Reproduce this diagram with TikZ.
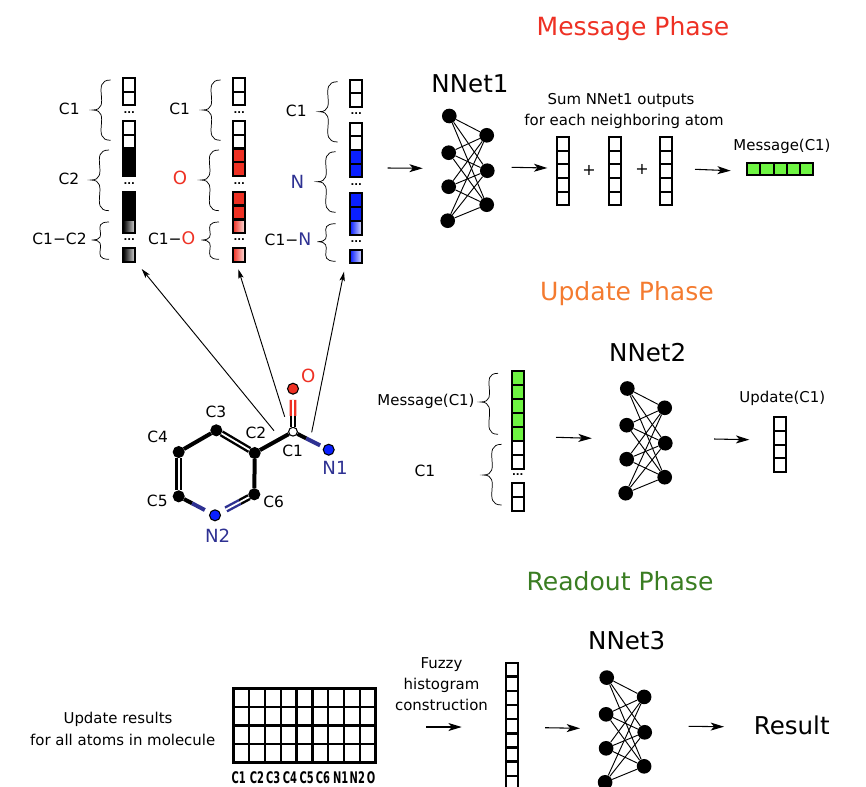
\documentclass[tikz,border=0pt]{standalone}
\usepackage{fontspec}
\setmainfont{DejaVu Sans}
\newfontfamily\gridfont[FakeStretch=0.62]{DejaVu Sans}
\usetikzlibrary{arrows.meta,calc}
\definecolor{atomred}{HTML}{EE3124}
\definecolor{atomblue}{HTML}{0A20FF}
\definecolor{atomnavy}{HTML}{2E3192}
\definecolor{msggreen}{HTML}{6EF542}
\definecolor{updorange}{HTML}{F47B30}
\definecolor{readgreen}{HTML}{3A7D22}

\begin{document}
\begin{tikzpicture}[x=0.75pt, y=-0.75pt,
        cell/.style={rectangle, draw, line width=1.5pt, inner sep=0, minimum width=9pt, minimum height=10.2pt},
        hcell/.style={cell, minimum width=9.9pt, minimum height=9.4pt, fill=msggreen},
        gcell/.style={rectangle, draw, line width=1.8pt, inner sep=0, minimum width=11.865pt, minimum height=13.875pt},
        neuron/.style={circle, fill=black, inner sep=0, minimum size=11pt},
        atom/.style={circle, draw, fill=black, line width=0.8pt, inner sep=0, minimum size=8.2pt},
        lab/.style={inner sep=0, font=\fontsize{11.6}{13}\selectfont},
        small/.style={inner sep=0, align=center, font=\fontsize{11.2}{15.75}\selectfont},
        big/.style={inner sep=0, font=\fontsize{18.4}{22}\selectfont},
        phase/.style={inner sep=0, font=\fontsize{18.8}{24}\selectfont},
        elem/.style={inner sep=0, font=\fontsize{13.6}{16}\selectfont},
        dots/.style={inner sep=0, font=\fontsize{7.5}{8}\selectfont\bfseries},
        flow/.style={-{Stealth[length=10pt, width=6pt, inset=2.6pt]}, line width=0.8pt},
        pick/.style={-{Stealth[length=7pt, width=4pt, inset=1.5pt]}, line width=0.7pt},
        bond/.style={line width=3pt},
        dbond/.style={line width=1.8pt, double, double distance=1.3pt}]
    \useasboundingbox (0,0) rectangle (866,786);
    % Phase titles
    \node[phase, atomred] (mphase) at (633,29) {Message Phase};
    \node[phase, updorange] (uphase) at (627,294) {Update Phase};
    \node[phase, readgreen] (rphase) at (620,581) {Readout Phase};
    % Atom feature columns
    \foreach \n/\cx/\dy/\colr in {A/129.3/0/black, B/239.2/0/atomred, C/356.2/1.5/atomblue} {
        \foreach \i/\cy in {1/85,2/98.4,3/128,4/141.6}
            \node[cell] (\n\i) at (\cx,\cy+\dy) {};
        \foreach \i/\cy in {5/155.5,6/169,7/198.4,8/212.6}
            \node[cell, fill=\colr] (\n\i) at (\cx,\cy+\dy) {};
        \foreach \i/\cy in {9/226.6,10/254.8}
            \node[cell, left color=\colr, right color=\colr!12] (\n\i) at (\cx,\cy+\dy) {};
        \foreach \i/\cy in {1/112.5,2/183.5,3/240}
            \node[dots] (\n d\i) at (\cx,\cy+\dy) {...};
    }
    % Curly braces
    \foreach \xr/\xp/\ta/\tb/\tc in {110.7/92.7/80/110/140.3, 109/91/150/180/210.7, 109/91.7/222/240/259.3,
            220.7/202.7/80/110/140.3, 219/201/150/180/210.7, 219/201.3/222/240/259.3,
            337.7/319.3/81.7/111.7/142, 335.7/317.3/151.7/181.7/212.3, 335.7/317.3/223.7/241.7/261.3,
            498/480.7/373.3/402/434.3, 501.7/483.3/444.3/475/505}
        \draw[line width=0.55pt] (\xr,\ta) .. controls (\xp-3,\ta) and (\xp+20,\tb) .. (\xp,\tb)
            .. controls (\xp+20,\tb) and (\xp-3,\tc) .. (\xr,\tc);
    % Column labels
    \node[lab] (l1) at (69.3,109) {C1};
    \node[lab] (l2) at (69,179.3) {C2};
    \node[lab] (l3) at (59.5,239.3) {C1−C2};
    \node[lab] (l4) at (179.7,109) {C1};
    \node[elem, atomred] (l5) at (180,178.3) {O};
    \node[lab] (l6) at (171.7,238.5) {C1−{\color{atomred}\fontsize{13}{16}\selectfont O}};
    \node[lab] (l7) at (296.3,111) {C1};
    \node[elem, atomnavy] (l8) at (297.3,181.7) {N};
    \node[lab] (l9) at (288,239.3) {C1−{\color{atomnavy}\fontsize{13}{16}\selectfont N}};
    % Molecule
    \node[atom, fill=white, minimum size=6.6pt] (C1) at (293,431.7) {};
    \node[atom, fill=atomred] (O) at (293,388.7) {};
    \node[atom, fill=atomblue] (N1) at (328.7,449.7) {};
    \node[atom] (C2) at (254.7,453) {};
    \node[atom] (C3) at (216.3,430.3) {};
    \node[atom] (C4) at (178.7,452) {};
    \node[atom] (C5) at (178.7,496.3) {};
    \node[atom] (C6) at (254.3,494.3) {};
    \node[atom, fill=atomblue] (N2) at (215,515.3) {};
    \draw[bond] (C1) -- (C2);
    \draw[bond] (C3) -- (C4);
    \draw[bond] (C2) -- (C6);
    \draw[dbond] (C3) -- (C2);
    \draw[dbond] (C4) -- (C5);
    \draw[bond] (C5) -- ($(C5)!0.37!(N2)$);
    \draw[bond, atomnavy] ($(C5)!0.37!(N2)$) -- ($(C5)!0.72!(N2)$);
    \draw[bond] (C1) -- ($(C1)!0.37!(N1)$);
    \draw[bond, atomnavy] ($(C1)!0.37!(N1)$) -- ($(C1)!0.76!(N1)$);
    \draw[dbond] (C6) -- ($(C6)!0.37!(N2)$);
    \draw[dbond, atomnavy] ($(C6)!0.37!(N2)$) -- ($(C6)!0.72!(N2)$);
    \draw[dbond] (C1) -- ($(C1)!0.37!(O)$);
    \draw[dbond, atomred] ($(C1)!0.37!(O)$) -- ($(C1)!0.74!(O)$);
    \node[lab] (tC1) at (292.7,451) {C1};
    \node[lab] (tC2) at (256,432.7) {C2};
    \node[lab] (tC3) at (216,412) {C3};
    \node[lab] (tC4) at (157.7,437.3) {C4};
    \node[lab] (tC5) at (157.3,500.7) {C5};
    \node[lab] (tC6) at (273.7,502) {C6};
    \node[elem, atomred] (tO) at (308.3,375.7) {O};
    \node[elem, atomnavy] (tN1) at (335,467.7) {N1};
    \node[elem, atomnavy] (tN2) at (217.7,535.7) {N2};
    % Arrows from molecule to columns
    \foreach \n/\xa/\ya/\xb/\yb in {1/274/430.7/141.7/269, 2/284.7/416.7/238.3/269.3, 3/311.7/432.3/344/271.7} {
        \coordinate (ps\n) at (\xa,\ya);
        \coordinate (pe\n) at (\xb,\yb);
        \draw[pick] (ps\n) -- (pe\n);
    }
    % Neural nets
    \foreach \n/\ox/\oy in {1/0/0, 2/178/272.5, 3/157.4/561.6} {
        \foreach \i/\a/\b in {1/449.3/116, 2/448.7/152.7, 3/448.7/186.7, 4/447.7/220.7}
            \node[neuron] (L\n\i) at (\ox+\a,\oy+\b) {};
        \foreach \j/\a/\b in {1/486.7/135.3, 2/487.3/170.7, 3/486.7/204.7}
            \node[neuron] (R\n\j) at (\ox+\a,\oy+\b) {};
        \foreach \i in {1,...,4}
            \foreach \j in {1,...,3}
                \draw[line width=0.7pt] (L\n\i) -- (R\n\j);
    }
    \node[big] (net1) at (470,84) {NNet1};
    \node[big] (net2) at (647.7,352.7) {NNet2};
    \node[big] (net3) at (626.7,641) {NNet3};
    % Flow arrows
    \foreach \n/\xa/\ya/\xb/\yb in {1/387.5/168/422.7/168.3, 2/511.7/167.3/547.3/168, 3/695/169.3/730.7/170.7,
            4/556/437.3/591.7/438.3, 5/714/439/749.3/439.7,
            6/426/727/461.7/727, 7/545/727.7/580/728.3, 8/688.7/726.3/724/726.7} {
        \coordinate (fs\n) at (\xa,\ya);
        \coordinate (fe\n) at (\xb,\yb);
        \draw[flow] (fs\n) -- (fe\n);
    }
    % Message phase outputs
    \node[small] (sumtexta) at (621,100.5) {Sum NNet1 outputs};
    \node[small] (sumtextb) at (624,121.5) {for each neighboring atom};
    \foreach \k/\cx in {1/563.3, 2/615.2, 3/665.5}
        \foreach \i in {1,...,5}
            \node[cell] (S\k\i) at (\cx,{130.3+\i*13.65}) {};
    \node[small, font=\fontsize{12}{14}\selectfont] (plus1) at (589,170) {+};
    \node[small, font=\fontsize{12}{14}\selectfont] (plus2) at (642,169.3) {+};
    \node[small] (msgtext) at (782,146) {Message(C1)};
    \foreach \i in {1,...,5}
        \node[hcell] (M\i) at ({740.7+\i*13.15},169.2) {};
    % Update phase
    \foreach \i in {1,...,5}
        \node[cell, fill=msggreen] (U\i) at (517.8,{364.2+\i*13.9}) {};
    \node[cell] (U6) at (517.8,447.7) {};
    \node[cell] (U7) at (517.8,461.7) {};
    \node[dots] (Ud) at (517.8,475) {...};
    \node[cell] (U8) at (517.8,490.2) {};
    \node[cell] (U9) at (517.8,504) {};
    \node[small] (umsg) at (426,401.7) {Message(C1)};
    \node[lab] (uc1) at (425,470.7) {C1};
    \node[small] (updtext) at (782.3,398.3) {Update(C1)};
    \foreach \i in {1,...,4}
        \node[cell] (V\i) at (779.8,{410.3+\i*13.7}) {};
    % Readout phase
    \node[small] (rtexta) at (118,719) {Update results};
    \node[small] (rtextb) at (122.7,740) {for all atoms in molecule};
    \foreach \i in {1,...,9}
        \foreach \j in {1,...,4}
            \node[gcell] (G\i\j) at ({225.4+\i*15.82},{679.1+\j*18.5}) {};
    \foreach \t/\cx in {C1/238.7, C2/257, C3/273.3, C4/290, C5/306.7, C6/323, N1/340.7, N2/357.3, O/371}
        \node[inner sep=0, font=\gridfont\fontsize{12}{13}\selectfont\bfseries] (g\t) at (\cx,778) {\t};
    \node[small] (fuzzy) at (441.5,684.5) {Fuzzy\\histogram\\construction};
    \foreach \i in {1,...,9}
        \node[cell] (H\i) at (512.2,{655.5+\i*14.15}) {};
    \node[big] (result) at (791.7,725.7) {Result};
\end{tikzpicture}
\end{document}
